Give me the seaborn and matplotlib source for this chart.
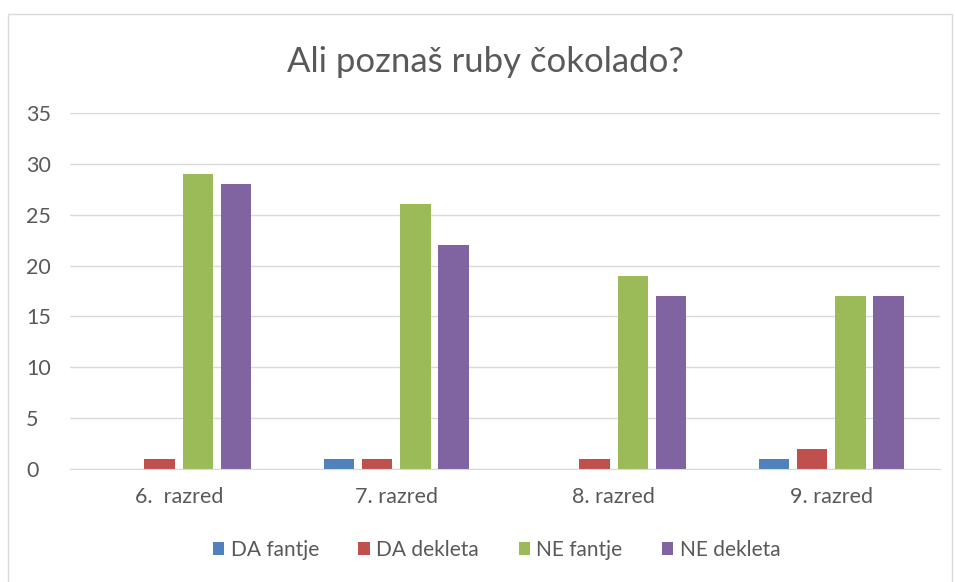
import matplotlib
matplotlib.use("Agg")
import matplotlib.pyplot as plt
import seaborn as sns
import pandas as pd
from matplotlib.patches import Rectangle

# podatki
razredi = ["6.  razred", "7. razred", "8. razred", "9. razred"]
serije = ["DA fantje", "DA dekleta", "NE fantje", "NE dekleta"]
da_fantje = [0, 1, 0, 1]
da_dekleta = [1, 1, 1, 2]
ne_fantje = [29, 26, 19, 17]
ne_dekleta = [28, 22, 17, 17]
barve = ["#4F81BD", "#C0504D", "#9BBB59", "#8064A2"]

rows = []
for s, vals in zip(serije, [da_fantje, da_dekleta, ne_fantje, ne_dekleta]):
    for r, v in zip(razredi, vals):
        rows.append({"razred": r, "serija": s, "n": v})
df = pd.DataFrame(rows)

sns.set_style("white")
plt.rcParams["font.family"] = ["Lato", "DejaVu Sans"]
txt = "#595959"

fig = plt.figure(figsize=(9.55, 5.82), dpi=100)
ax = fig.add_axes([0.0733, 0.194, 0.911, 0.612])

sns.barplot(data=df, x="razred", y="n", hue="serija", order=razredi,
            hue_order=serije, palette=barve, width=0.7, gap=0.2,
            saturation=1, linewidth=0, ax=ax, legend=True)

ax.set_ylim(0, 35)
ax.set_yticks(range(0, 36, 5))
ax.set_xlim(-0.5, 3.5)
ax.yaxis.grid(True, color="#D9D9D9", linewidth=1)
ax.set_axisbelow(True)
for side in ["top", "right", "left"]:
    ax.spines[side].set_visible(False)
ax.spines["bottom"].set_color("#D9D9D9")
ax.set_xlabel("")
ax.set_ylabel("")
ax.tick_params(axis="both", length=0, labelsize=15.5, colors=txt)
ax.tick_params(axis="x", pad=13)
ax.tick_params(axis="y", pad=43)
for lab in ax.get_yticklabels():
    lab.set_horizontalalignment("left")
    lab.set_x(0.0 + 16 / 870)

fig.text(0.508, 0.893, "Ali poznaš ruby čokolado?", ha="center", va="center",
         fontsize=25, color=txt)

h, l = ax.get_legend_handles_labels()
ax.legend_.remove()
fig.legend(h, l, loc="center", bbox_to_anchor=(0.52, 0.055), ncol=4,
           frameon=False, fontsize=15, labelcolor=txt, handlelength=0.55,
           handleheight=0.55, handletextpad=0.3, columnspacing=1.9)

fig.patches.append(Rectangle((8 / 955, -0.01), 944 / 955, 1 - 14 / 582 + 0.01,
                             transform=fig.transFigure, fill=False,
                             edgecolor="#D9D9D9", linewidth=1))

fig.savefig("out.png", dpi=100)
